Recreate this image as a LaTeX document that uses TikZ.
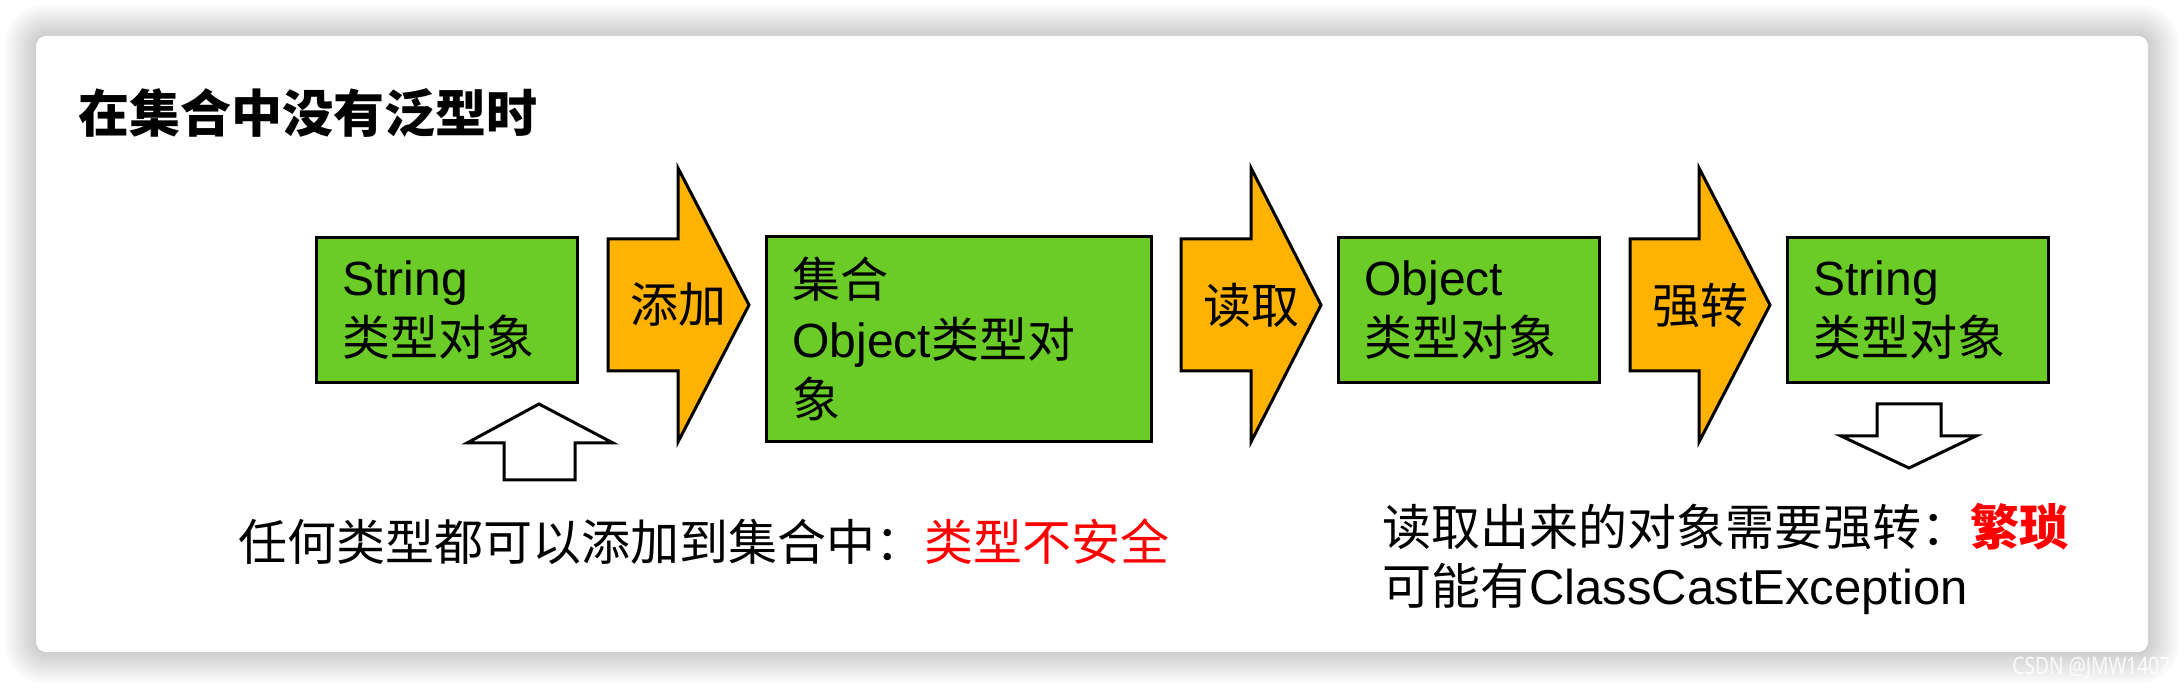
\documentclass[tikz,border=0pt]{standalone}
\usepackage{fontspec}
\setmainfont{Liberation Sans}
\newfontfamily\cjk{Noto Sans CJK SC}
\newfontfamily\wmfont{Noto Sans}[FakeStretch=0.8]
\newcommand\zh[1]{{\cjk #1}}
\definecolor{boxgreen}{RGB}{107,203,39}
\definecolor{arrorange}{RGB}{255,179,0}
\definecolor{warnred}{RGB}{255,0,0}
\begin{document}
\begin{tikzpicture}[x=0.5pt,y=-0.5pt,
  greenbox/.style={draw=black, line width=1.5pt, fill=boxgreen, rectangle, anchor=north west,
    inner xsep=13pt, inner ysep=0pt, align=left, font=\fontsize{24}{30}\selectfont},
  blockarrow/.style={draw=black, line width=1.5pt, fill=arrorange},
  hollowarrow/.style={draw=black, line width=1.5pt, fill=white},
  arrlabel/.style={font=\fontsize{24}{30}\selectfont\cjk, inner sep=0pt},
  note/.style={font=\fontsize{24.5}{30}\selectfont, anchor=base west, inner sep=0pt}]
\useasboundingbox (0,0) rectangle (2184,688);
\fill[white] (0,0) rectangle (2184,688);
% card shadow
\foreach \i in {1,...,16}{
  \pgfmathsetmacro\rr{5+\i}
  \fill[black, opacity=0.013, rounded corners=\rr pt] (36-2*\i,36-2*\i) rectangle (2148+2*\i,652+2*\i);
}
\fill[white, rounded corners=5pt] (36,36) rectangle (2148,652);
% title
\node[anchor=base west, inner sep=0pt, font=\fontsize{25.5}{30}\selectfont\cjk\bfseries] (title) at (78,133) {在集合中没有泛型时};
% boxes
\node[greenbox, minimum width=130.5pt, minimum height=72.5pt, text width=104.5pt] (s1) at (315,236) {String\\\zh{类型对象}};
\node[greenbox, minimum width=192.5pt, minimum height=102.5pt, text width=166.5pt] (col) at (765,235) {\zh{集合}\\Object\zh{类型对}\\\zh{象}};
\node[greenbox, minimum width=130.5pt, minimum height=72.5pt, text width=104.5pt] (obj) at (1337,236) {Object\\\zh{类型对象}};
\node[greenbox, minimum width=130.5pt, minimum height=72.5pt, text width=104.5pt] (s2) at (1786,236) {String\\\zh{类型对象}};
% block arrows
\draw[blockarrow] (608,239) -- (678,239) -- (678,168) -- (749,305) -- (678,442) -- (678,371) -- (608,371) -- cycle;
\node[arrlabel] (add) at (678.5,305) {添加};
\draw[blockarrow] (1181,239) -- (1251,239) -- (1251,168) -- (1321,305) -- (1251,442) -- (1251,371) -- (1181,371) -- cycle;
\node[arrlabel] (read) at (1251,305) {读取};
\draw[blockarrow] (1630,239) -- (1699,239) -- (1699,168) -- (1770,305) -- (1699,442) -- (1699,371) -- (1630,371) -- cycle;
\node[arrlabel] (cast) at (1700,305) {强转};
% hollow arrows
\draw[hollowarrow] (539,404) -- (613,443) -- (575,443) -- (575,480) -- (504,480) -- (504,443) -- (467,443) -- cycle;
\draw[hollowarrow] (1877,404) -- (1941,404) -- (1941,436) -- (1976,436) -- (1909,468) -- (1841,436) -- (1877,436) -- cycle;
% notes
\node[note] (warn1) at (238,561) {\zh{任何类型都可以添加到集合中：}\textcolor{warnred}{\zh{类型不安全}}};
\node[note] (warn2a) at (1382,546) {\zh{读取出来的对象需要强转：}\textcolor{warnred}{\zh{\bfseries 繁琐}}};
\node[note] (warn2b) at (1382,605) {\zh{可能有}ClassCastException};
% watermark
\node[anchor=base west, inner sep=0pt, text=white, opacity=0.85, font=\fontsize{12}{14}\selectfont\wmfont] (wm) at (2012,675) {CSDN @JMW1407};
\end{tikzpicture}
\end{document}
